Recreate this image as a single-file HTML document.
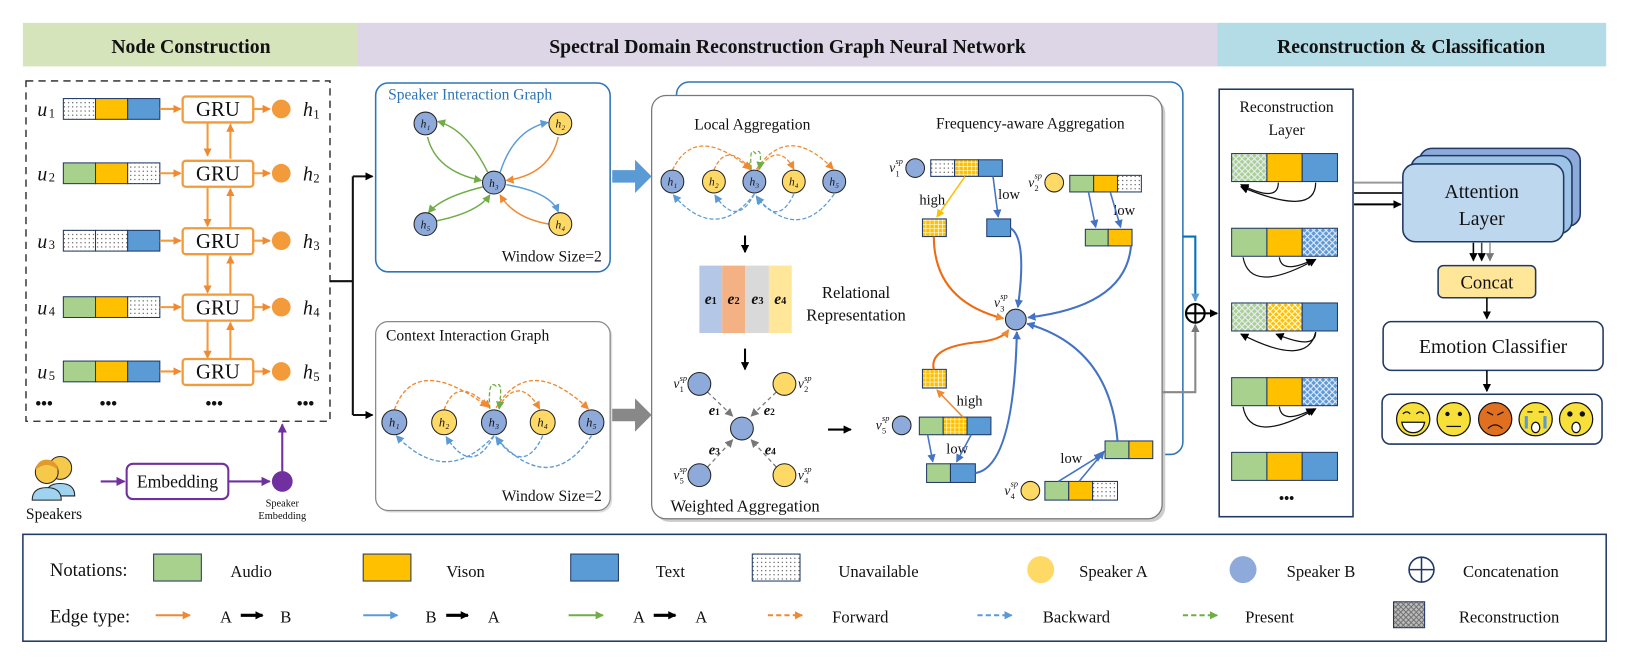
<!DOCTYPE html>
<html><head><meta charset="utf-8"><style>
html,body{margin:0;padding:0;background:#fff}
svg{display:block}
text{font-family:"Liberation Serif",serif;fill:#111}
.i{font-style:italic}
</style></head><body>
<svg width="1627" height="663" viewBox="0 0 1568 639" xmlns="http://www.w3.org/2000/svg">
<defs>
<pattern id="dot" width="4" height="4" patternUnits="userSpaceOnUse"><rect width="4" height="4" fill="#fff"/><circle cx="2" cy="2" r="0.6" fill="#333"/></pattern>
<pattern id="grid" width="4" height="4" patternUnits="userSpaceOnUse"><rect width="4" height="4" fill="#ffc000"/><path d="M0 0H4M0 0V4" stroke="#fff" stroke-width="1.2"/></pattern>
<pattern id="hg" width="6" height="6" patternUnits="userSpaceOnUse"><rect width="6" height="6" fill="#a9d18e"/><path d="M0 0L6 6M6 0L0 6" stroke="#eef" stroke-width="1"/></pattern>
<pattern id="hb" width="6" height="6" patternUnits="userSpaceOnUse"><rect width="6" height="6" fill="#5b9bd5"/><path d="M0 0L6 6M6 0L0 6" stroke="#eef" stroke-width="1"/></pattern>
<pattern id="hy" width="6" height="6" patternUnits="userSpaceOnUse"><rect width="6" height="6" fill="#ffc000"/><path d="M0 0L6 6M6 0L0 6" stroke="#fff" stroke-width="1"/></pattern>
<pattern id="hk" width="5" height="5" patternUnits="userSpaceOnUse"><rect width="5" height="5" fill="#bbb"/><path d="M0 0L5 5M5 0L0 5" stroke="#666" stroke-width="0.8"/></pattern>
<marker id="ao" markerWidth="8" markerHeight="8" refX="7" refY="4" orient="auto" markerUnits="userSpaceOnUse"><path d="M0 0L8 4L0 8z" fill="#f08a32"/></marker>
<marker id="ab" markerWidth="8" markerHeight="8" refX="7" refY="4" orient="auto" markerUnits="userSpaceOnUse"><path d="M0 0L8 4L0 8z" fill="#5b9bd5"/></marker>
<marker id="ab2" markerWidth="8" markerHeight="8" refX="7" refY="4" orient="auto" markerUnits="userSpaceOnUse"><path d="M0 0L8 4L0 8z" fill="#4472c4"/></marker>
<marker id="ag" markerWidth="8" markerHeight="8" refX="7" refY="4" orient="auto" markerUnits="userSpaceOnUse"><path d="M0 0L8 4L0 8z" fill="#70ad47"/></marker>
<marker id="ak" markerWidth="8" markerHeight="8" refX="7" refY="4" orient="auto" markerUnits="userSpaceOnUse"><path d="M0 0L8 4L0 8z" fill="#000"/></marker>
<marker id="agr" markerWidth="8" markerHeight="8" refX="7" refY="4" orient="auto" markerUnits="userSpaceOnUse"><path d="M0 0L8 4L0 8z" fill="#777"/></marker>
<marker id="ap" markerWidth="9" markerHeight="9" refX="8" refY="4.5" orient="auto" markerUnits="userSpaceOnUse"><path d="M0 0L9 4.5L0 9z" fill="#7030a0"/></marker>
<marker id="ay" markerWidth="8" markerHeight="8" refX="7" refY="4" orient="auto" markerUnits="userSpaceOnUse"><path d="M0 0L8 4L0 8z" fill="#ffc000"/></marker>
</defs>

<!-- headers -->
<rect x="22" y="22" width="323" height="42" fill="#d6e4bc"/>
<rect x="345" y="22" width="828" height="42" fill="#dcd6e6"/>
<rect x="1173" y="22" width="375" height="42" fill="#b4dce6"/>
<text x="184" y="51" font-size="19" font-weight="bold" text-anchor="middle">Node Construction</text>
<text x="759" y="51" font-size="19" font-weight="bold" text-anchor="middle">Spectral Domain Reconstruction Graph Neural Network</text>
<text x="1360" y="51" font-size="19" font-weight="bold" text-anchor="middle">Reconstruction &amp; Classification</text>

<!-- node construction -->
<rect x="25" y="78" width="293" height="328" fill="none" stroke="#222" stroke-width="1.3" stroke-dasharray="7,5"/>
<g stroke="#f39a3a" stroke-width="2" fill="none">
<path d="M200 117V150" marker-end="url(#ao)"/><path d="M222 153V120" marker-end="url(#ao)"/>
<path d="M200 179V218" marker-end="url(#ao)"/><path d="M222 221V182" marker-end="url(#ao)"/>
<path d="M200 244V282" marker-end="url(#ao)"/><path d="M222 285V247" marker-end="url(#ao)"/>
<path d="M200 308V345" marker-end="url(#ao)"/><path d="M222 348V311" marker-end="url(#ao)"/>
</g>
<g font-size="19">
<g transform="translate(0,105)">
<text x="36" y="7" class="i">u</text><text x="47" y="8" font-size="12">1</text>
<rect x="61" y="-10" width="31" height="20" fill="url(#dot)" stroke="#203864"/><rect x="92" y="-10" width="31" height="20" fill="#ffc000" stroke="#203864"/><rect x="123" y="-10" width="31" height="20" fill="#5b9bd5" stroke="#203864"/>
</g>
<g transform="translate(0,167)">
<text x="36" y="7" class="i">u</text><text x="47" y="8" font-size="12">2</text>
<rect x="61" y="-10" width="31" height="20" fill="#a9d18e" stroke="#203864"/><rect x="92" y="-10" width="31" height="20" fill="#ffc000" stroke="#203864"/><rect x="123" y="-10" width="31" height="20" fill="url(#dot)" stroke="#203864"/>
</g>
<g transform="translate(0,232)">
<text x="36" y="7" class="i">u</text><text x="47" y="8" font-size="12">3</text>
<rect x="61" y="-10" width="31" height="20" fill="url(#dot)" stroke="#203864"/><rect x="92" y="-10" width="31" height="20" fill="url(#dot)" stroke="#203864"/><rect x="123" y="-10" width="31" height="20" fill="#5b9bd5" stroke="#203864"/>
</g>
<g transform="translate(0,296)">
<text x="36" y="7" class="i">u</text><text x="47" y="8" font-size="12">4</text>
<rect x="61" y="-10" width="31" height="20" fill="#a9d18e" stroke="#203864"/><rect x="92" y="-10" width="31" height="20" fill="#ffc000" stroke="#203864"/><rect x="123" y="-10" width="31" height="20" fill="url(#dot)" stroke="#203864"/>
</g>
<g transform="translate(0,358)">
<text x="36" y="7" class="i">u</text><text x="47" y="8" font-size="12">5</text>
<rect x="61" y="-10" width="31" height="20" fill="#a9d18e" stroke="#203864"/><rect x="92" y="-10" width="31" height="20" fill="#ffc000" stroke="#203864"/><rect x="123" y="-10" width="31" height="20" fill="#5b9bd5" stroke="#203864"/>
</g>
</g>
<g stroke="#f39a3a" stroke-width="2.2" fill="#fff">
<rect x="176" y="93" width="68" height="25" rx="3"/><rect x="176" y="155" width="68" height="25" rx="3"/><rect x="176" y="220" width="68" height="25" rx="3"/><rect x="176" y="284" width="68" height="25" rx="3"/><rect x="176" y="346" width="68" height="25" rx="3"/>
</g>
<g stroke="#f39a3a" stroke-width="2" fill="none">
<path d="M154 105H174" marker-end="url(#ao)"/><path d="M154 167H174" marker-end="url(#ao)"/><path d="M154 232H174" marker-end="url(#ao)"/><path d="M154 296H174" marker-end="url(#ao)"/><path d="M154 358H174" marker-end="url(#ao)"/>
<path d="M244 105H260" marker-end="url(#ao)"/><path d="M244 167H260" marker-end="url(#ao)"/><path d="M244 232H260" marker-end="url(#ao)"/><path d="M244 296H260" marker-end="url(#ao)"/><path d="M244 358H260" marker-end="url(#ao)"/>
</g>
<g fill="#f39a3a"><circle cx="271" cy="105" r="9"/><circle cx="271" cy="167" r="9"/><circle cx="271" cy="232" r="9"/><circle cx="271" cy="296" r="9"/><circle cx="271" cy="358" r="9"/></g>
<g font-size="20" text-anchor="middle"><text x="210" y="112">GRU</text><text x="210" y="174">GRU</text><text x="210" y="239">GRU</text><text x="210" y="303">GRU</text><text x="210" y="365">GRU</text></g>
<g font-size="19"><text x="292" y="112" class="i">h</text><text x="292" y="174" class="i">h</text><text x="292" y="239" class="i">h</text><text x="292" y="303" class="i">h</text><text x="292" y="365" class="i">h</text></g>
<g font-size="12"><text x="302" y="114">1</text><text x="302" y="176">2</text><text x="302" y="241">3</text><text x="302" y="305">4</text><text x="302" y="367">5</text></g>
<g font-size="16" font-weight="bold"><text x="34" y="394">•••</text><text x="96" y="394">•••</text><text x="198" y="394">•••</text><text x="286" y="394">•••</text></g>

<!-- speakers -->
<g>
<circle cx="58" cy="451" r="11" fill="#f6c94a" stroke="#222"/><path d="M44 478q0-12 14-12q14 0 14 12z" fill="#9fd3f0" stroke="#222"/>
<circle cx="45" cy="455" r="11" fill="#f6c94a" stroke="#222"/><path d="M31 482q0-12 14-12q14 0 14 12z" fill="#9fd3f0" stroke="#222"/>
<path d="M34 453q2-10 11-10q9 0 11 10q-6-5-11-5q-5 0-11 5z" fill="#e29a2a"/>
</g>
<text x="52" y="500" font-size="15" text-anchor="middle">Speakers</text>
<path d="M97 464H120" stroke="#7030a0" stroke-width="2" marker-end="url(#ap)"/>
<rect x="122" y="447" width="98" height="34" rx="6" fill="#fff" stroke="#7030a0" stroke-width="2"/>
<text x="171" y="470" font-size="17" text-anchor="middle">Embedding</text>
<path d="M220 464H260" stroke="#7030a0" stroke-width="2" marker-end="url(#ap)"/>
<circle cx="272" cy="464" r="10" fill="#7030a0"/>
<path d="M272 454V409" stroke="#7030a0" stroke-width="2" marker-end="url(#ap)"/>
<text x="272" y="488" font-size="10" text-anchor="middle">Speaker</text><text x="272" y="500" font-size="10" text-anchor="middle">Embedding</text>

<!-- connector -->
<path d="M318 271H340M340 170V400" stroke="#111" stroke-width="2" fill="none"/>
<path d="M340 170H359" stroke="#111" stroke-width="2" marker-end="url(#ak)"/>
<path d="M340 400H359" stroke="#111" stroke-width="2" marker-end="url(#ak)"/>

<!-- speaker interaction graph -->
<rect x="362" y="80" width="226" height="182" rx="12" fill="#fff" stroke="#2e75b6" stroke-width="1.5"/>
<text x="374" y="96" font-size="15" style="fill:#2e75b6">Speaker Interaction Graph</text>
<g fill="none" stroke-width="1.4">
<path d="M470 166Q450 125 422 117" stroke="#70ad47" marker-end="url(#ag)"/>
<path d="M412 132Q420 165 464 174" stroke="#70ad47" marker-end="url(#ag)"/>
<path d="M466 180Q425 190 413 205" stroke="#70ad47" marker-end="url(#ag)"/>
<path d="M420 213Q460 205 472 188" stroke="#70ad47" marker-end="url(#ag)"/>
<path d="M482 166Q495 125 528 118" stroke="#5b9bd5" marker-end="url(#ab)"/>
<path d="M538 132Q530 168 488 174" stroke="#f08a32" marker-end="url(#ao)"/>
<path d="M488 178Q530 185 538 204" stroke="#5b9bd5" marker-end="url(#ab)"/>
<path d="M529 216Q495 210 482 188" stroke="#f08a32" marker-end="url(#ao)"/>
</g>
<g stroke="#222" stroke-width="1"><circle cx="410" cy="119" r="11" fill="#8eaadb"/><circle cx="540" cy="119" r="11" fill="#ffd966"/><circle cx="476" cy="176" r="11" fill="#8eaadb"/><circle cx="410" cy="216" r="11" fill="#8eaadb"/><circle cx="540" cy="216" r="11" fill="#ffd966"/></g>
<g font-size="11" class="i" text-anchor="middle"><text x="410" y="123">h₁</text><text x="540" y="123">h₂</text><text x="476" y="180">h₃</text><text x="410" y="220">h₅</text><text x="540" y="220">h₄</text></g>
<text x="580" y="252" font-size="15" text-anchor="end">Window Size=2</text>

<!-- context interaction graph -->
<rect x="364" y="312" width="226" height="182" rx="12" fill="#ddd"/>
<rect x="362" y="310" width="226" height="182" rx="12" fill="#fff" stroke="#888" stroke-width="1.2"/>
<text x="372" y="328" font-size="15">Context Interaction Graph</text>
<g fill="none" stroke-width="1.3" stroke-dasharray="4,2">
<path d="M380 395Q400 340 470 392" stroke="#f08a32" marker-end="url(#ao)"/>
<path d="M428 395Q440 360 472 393" stroke="#f08a32" marker-end="url(#ao)"/>
<path d="M480 393Q500 360 520 394" stroke="#f08a32" marker-end="url(#ao)"/>
<path d="M478 393Q510 340 567 394" stroke="#f08a32" marker-end="url(#ao)"/>
<path d="M472 394Q470 365 478 372Q485 365 481 394" stroke="#70ad47" marker-end="url(#ag)"/>
<path d="M476 420Q430 470 382 420" stroke="#5b9bd5" marker-end="url(#ab)"/>
<path d="M476 420Q455 460 430 421" stroke="#5b9bd5" marker-end="url(#ab)"/>
<path d="M523 420Q505 460 478 421" stroke="#5b9bd5" marker-end="url(#ab)"/>
<path d="M570 420Q530 480 478 422" stroke="#5b9bd5" marker-end="url(#ab)"/>
</g>
<g stroke="#222" stroke-width="1"><circle cx="380" cy="407" r="12" fill="#8eaadb"/><circle cx="428" cy="407" r="12" fill="#ffd966"/><circle cx="476" cy="407" r="12" fill="#8eaadb"/><circle cx="523" cy="407" r="12" fill="#ffd966"/><circle cx="570" cy="407" r="12" fill="#8eaadb"/></g>
<g font-size="12" class="i" text-anchor="middle"><text x="380" y="411">h₁</text><text x="428" y="411">h₂</text><text x="476" y="411">h₃</text><text x="523" y="411">h₄</text><text x="570" y="411">h₅</text></g>
<text x="580" y="483" font-size="15" text-anchor="end">Window Size=2</text>

<!-- thick arrows -->
<path d="M590 164H612V154L628 170L612 186V176H590z" fill="#5b9bd5"/>
<path d="M590 394H612V384L628 400L612 416V406H590z" fill="#888"/>

<!-- back blue box -->
<rect x="652" y="79" width="488" height="359" rx="12" fill="#fff" stroke="#2e75b6" stroke-width="1.5"/>
<rect x="631" y="95" width="492" height="408" rx="14" fill="#ccc"/>
<rect x="628" y="92" width="492" height="408" rx="14" fill="#fff" stroke="#777" stroke-width="1.2"/>

<!-- local aggregation -->
<text x="725" y="125" font-size="15" text-anchor="middle">Local Aggregation</text>
<g fill="none" stroke-width="1.2" stroke-dasharray="4,2">
<path d="M648 164Q670 118 723 163" stroke="#f08a32" marker-end="url(#ao)"/>
<path d="M688 164Q700 135 724 164" stroke="#f08a32" marker-end="url(#ao)"/>
<path d="M730 164Q750 135 765 163" stroke="#f08a32" marker-end="url(#ao)"/>
<path d="M729 163Q760 118 803 163" stroke="#f08a32" marker-end="url(#ao)"/>
<path d="M724 163Q722 140 728 148Q735 140 732 163" stroke="#70ad47" marker-end="url(#ag)"/>
<path d="M727 187Q690 235 649 188" stroke="#5b9bd5" marker-end="url(#ab)"/>
<path d="M727 187Q710 220 689 188" stroke="#5b9bd5" marker-end="url(#ab)"/>
<path d="M765 187Q750 220 729 189" stroke="#5b9bd5" marker-end="url(#ab)"/>
<path d="M804 187Q770 235 729 190" stroke="#5b9bd5" marker-end="url(#ab)"/>
</g>
<g stroke="#222" stroke-width="1"><circle cx="648" cy="175" r="11" fill="#8eaadb"/><circle cx="688" cy="175" r="11" fill="#ffd966"/><circle cx="727" cy="175" r="11" fill="#8eaadb"/><circle cx="765" cy="175" r="11" fill="#ffd966"/><circle cx="804" cy="175" r="11" fill="#8eaadb"/></g>
<g font-size="11" class="i" text-anchor="middle"><text x="648" y="179">h₁</text><text x="688" y="179">h₂</text><text x="727" y="179">h₃</text><text x="765" y="179">h₄</text><text x="804" y="179">h₅</text></g>
<path d="M718 227V243" stroke="#000" stroke-width="2" marker-end="url(#ak)"/>
<rect x="674" y="256" width="22" height="65" fill="#b4c7e7"/><rect x="696" y="256" width="22" height="65" fill="#f4b183"/><rect x="718" y="256" width="23" height="65" fill="#d9d9d9"/><rect x="741" y="256" width="22" height="65" fill="#ffe699"/>
<g font-size="15" class="i" font-weight="bold" text-anchor="middle"><text x="685" y="293">e<tspan font-size="10" font-style="normal">1</tspan></text><text x="707" y="293">e<tspan font-size="10" font-style="normal">2</tspan></text><text x="730" y="293">e<tspan font-size="10" font-style="normal">3</tspan></text><text x="752" y="293">e<tspan font-size="10" font-style="normal">4</tspan></text></g>
<text x="825" y="287" font-size="16" text-anchor="middle">Relational</text>
<text x="825" y="309" font-size="16" text-anchor="middle">Representation</text>
<path d="M718 336V356" stroke="#000" stroke-width="2" marker-end="url(#ak)"/>
<!-- weighted -->
<g stroke="#777" stroke-width="1.2" stroke-dasharray="4,3" fill="none">
<path d="M682 378L706 401" marker-end="url(#agr)"/><path d="M748 378L724 401" marker-end="url(#agr)"/><path d="M682 450L706 424" marker-end="url(#agr)"/><path d="M748 450L724 424" marker-end="url(#agr)"/>
</g>
<g stroke="#222" stroke-width="1"><circle cx="674" cy="370" r="11" fill="#8eaadb"/><circle cx="756" cy="370" r="11" fill="#ffd966"/><circle cx="715" cy="413" r="11" fill="#8eaadb"/><circle cx="674" cy="458" r="11" fill="#8eaadb"/><circle cx="756" cy="458" r="11" fill="#ffd966"/></g>
<g font-size="14" class="i" font-weight="bold"><text x="683" y="400">e<tspan font-size="9" font-style="normal">1</tspan></text><text x="736" y="400">e<tspan font-size="9" font-style="normal">2</tspan></text><text x="683" y="438">e<tspan font-size="9" font-style="normal">3</tspan></text><text x="737" y="438">e<tspan font-size="9" font-style="normal">4</tspan></text></g>
<g font-size="13" class="i">
<text x="649" y="374">v</text><text x="655" y="378" font-size="8" font-style="normal">1</text><text x="655" y="367" font-size="8">sp</text>
<text x="769" y="374">v</text><text x="775" y="378" font-size="8" font-style="normal">2</text><text x="775" y="367" font-size="8">sp</text>
<text x="649" y="462">v</text><text x="655" y="466" font-size="8" font-style="normal">5</text><text x="655" y="455" font-size="8">sp</text>
<text x="769" y="462">v</text><text x="775" y="466" font-size="8" font-style="normal">4</text><text x="775" y="455" font-size="8">sp</text>
</g>
<text x="718" y="493" font-size="16" text-anchor="middle">Weighted Aggregation</text>
<path d="M798 414H820" stroke="#000" stroke-width="2" marker-end="url(#ak)"/>

<!-- frequency-aware -->
<text x="993" y="124" font-size="15" text-anchor="middle">Frequency-aware Aggregation</text>
<g stroke="#203864" stroke-width="1">
<rect x="897" y="154" width="23" height="16" fill="url(#dot)"/><rect x="920" y="154" width="23" height="16" fill="url(#grid)"/><rect x="943" y="154" width="23" height="16" fill="#5b9bd5"/>
<rect x="889" y="211" width="23" height="17" fill="url(#grid)"/><rect x="951" y="211" width="23" height="17" fill="#5b9bd5"/>
<rect x="1031" y="169" width="23" height="16" fill="#a9d18e"/><rect x="1054" y="169" width="23" height="16" fill="#ffc000"/><rect x="1077" y="169" width="23" height="16" fill="url(#dot)"/>
<rect x="1046" y="221" width="22" height="16" fill="#a9d18e"/><rect x="1068" y="221" width="23" height="16" fill="#ffc000"/>
<rect x="889" y="356" width="23" height="18" fill="url(#grid)"/>
<rect x="886" y="402" width="23" height="17" fill="#a9d18e"/><rect x="909" y="402" width="23" height="17" fill="url(#grid)"/><rect x="932" y="402" width="23" height="17" fill="#5b9bd5"/>
<rect x="893" y="447" width="23" height="18" fill="#a9d18e"/><rect x="916" y="447" width="24" height="18" fill="#5b9bd5"/>
<rect x="1065" y="425" width="23" height="17" fill="#a9d18e"/><rect x="1088" y="425" width="23" height="17" fill="#ffc000"/>
<rect x="1007" y="464" width="23" height="18" fill="#a9d18e"/><rect x="1030" y="464" width="23" height="18" fill="#ffc000"/><rect x="1053" y="464" width="24" height="18" fill="url(#dot)"/>
</g>
<g stroke="#222" stroke-width="1"><circle cx="882" cy="162" r="9" fill="#8eaadb"/><circle cx="1016" cy="176" r="9" fill="#ffd966"/><circle cx="869" cy="410" r="9" fill="#8eaadb"/><circle cx="993" cy="473" r="9" fill="#ffd966"/><circle cx="979" cy="308" r="10" fill="#8eaadb"/></g>
<g font-size="13" class="i">
<text x="857" y="166">v</text><text x="863" y="170" font-size="8" font-style="normal">1</text><text x="863" y="158" font-size="8">sp</text>
<text x="991" y="180">v</text><text x="997" y="184" font-size="8" font-style="normal">2</text><text x="997" y="172" font-size="8">sp</text>
<text x="844" y="414">v</text><text x="850" y="418" font-size="8" font-style="normal">5</text><text x="850" y="406" font-size="8">sp</text>
<text x="968" y="477">v</text><text x="974" y="481" font-size="8" font-style="normal">4</text><text x="974" y="469" font-size="8">sp</text>
<text x="958" y="296">v</text><text x="964" y="300" font-size="8" font-style="normal">3</text><text x="964" y="288" font-size="8">sp</text>
</g>
<g font-size="14"><text x="886" y="197">high</text><text x="962" y="192">low</text><text x="1073" y="207">low</text><text x="922" y="391">high</text><text x="912" y="437">low</text><text x="1022" y="446">low</text></g>
<g fill="none" stroke-width="1.5">
<path d="M930 170L903 209" stroke="#ffc000" marker-end="url(#ay)"/>
<path d="M957 170L962 209" stroke="#4472c4" marker-end="url(#ab2)"/>
<path d="M1049 185L1056 219" stroke="#4472c4" marker-end="url(#ab2)"/>
<path d="M1070 185L1080 219" stroke="#4472c4" marker-end="url(#ab2)"/>
<path d="M900 228Q900 290 967 307" stroke="#f06a10" stroke-width="2" marker-end="url(#ao)"/>
<path d="M974 220Q990 230 981 296" stroke="#4472c4" stroke-width="2" marker-end="url(#ab2)"/>
<path d="M1090 237Q1085 295 991 306" stroke="#4472c4" stroke-width="2" marker-end="url(#ab2)"/>
<path d="M900 356Q895 335 940 330Q965 328 972 318" stroke="#f06a10" stroke-width="2" marker-end="url(#ao)"/>
<path d="M928 402L903 376" stroke="#f08a32" marker-end="url(#ao)"/>
<path d="M940 456Q977 450 980 320" stroke="#4472c4" stroke-width="2" marker-end="url(#ab2)"/>
<path d="M1077 425Q1070 335 990 312" stroke="#4472c4" stroke-width="2" marker-end="url(#ab2)"/>
<path d="M894 419L899 445" stroke="#4472c4" marker-end="url(#ab2)"/>
<path d="M936 419L922 445" stroke="#4472c4" marker-end="url(#ab2)"/>
<path d="M1020 464L1062 438" stroke="#4472c4" marker-end="url(#ab2)"/>
<path d="M1040 464L1064 435" stroke="#4472c4" marker-end="url(#ab2)"/>
</g>

<!-- concat circle -->
<path d="M1140 228H1152V290" stroke="#0070c0" stroke-width="2" fill="none" marker-end="url(#ab)"/>
<path d="M1120 378H1152V313" stroke="#888" stroke-width="2" fill="none" marker-end="url(#agr)"/>
<circle cx="1152" cy="302" r="9" fill="#fff" stroke="#000" stroke-width="2"/>
<path d="M1143 302H1161M1152 293V311" stroke="#000" stroke-width="2"/>
<path d="M1161 302H1173" stroke="#000" stroke-width="2" marker-end="url(#ak)"/>

<!-- reconstruction layer -->
<rect x="1175" y="86" width="129" height="412" fill="#fff" stroke="#203864" stroke-width="1.5"/>
<text x="1240" y="108" font-size="15" text-anchor="middle">Reconstruction</text>
<text x="1240" y="130" font-size="15" text-anchor="middle">Layer</text>
<g stroke="#203864" stroke-width="1">
<rect x="1187" y="148" width="34" height="27" fill="url(#hg)"/><rect x="1221" y="148" width="34" height="27" fill="#ffc000"/><rect x="1255" y="148" width="34" height="27" fill="#5b9bd5"/>
<rect x="1187" y="220" width="34" height="27" fill="#a9d18e"/><rect x="1221" y="220" width="34" height="27" fill="#ffc000"/><rect x="1255" y="220" width="34" height="27" fill="url(#hb)"/>
<rect x="1187" y="292" width="34" height="27" fill="url(#hg)"/><rect x="1221" y="292" width="34" height="27" fill="url(#hy)"/><rect x="1255" y="292" width="34" height="27" fill="#5b9bd5"/>
<rect x="1187" y="364" width="34" height="27" fill="#a9d18e"/><rect x="1221" y="364" width="34" height="27" fill="#ffc000"/><rect x="1255" y="364" width="34" height="27" fill="url(#hb)"/>
<rect x="1187" y="436" width="34" height="27" fill="#a9d18e"/><rect x="1221" y="436" width="34" height="27" fill="#ffc000"/><rect x="1255" y="436" width="34" height="27" fill="#5b9bd5"/>
</g>
<g fill="none" stroke="#111" stroke-width="1.2">
<path d="M1232 176Q1232 196 1196 178" marker-end="url(#ak)"/><path d="M1268 176Q1268 210 1196 180" marker-end="url(#ak)"/>
<path d="M1233 248Q1235 265 1266 250" marker-end="url(#ak)"/><path d="M1198 248Q1205 285 1268 250" marker-end="url(#ak)"/>
<path d="M1268 320Q1268 338 1230 322" marker-end="url(#ak)"/><path d="M1268 320Q1260 355 1196 322" marker-end="url(#ak)"/>
<path d="M1233 392Q1235 410 1266 394" marker-end="url(#ak)"/><path d="M1198 392Q1205 430 1268 394" marker-end="url(#ak)"/>
</g>
<text x="1240" y="485" font-size="14" font-weight="bold" text-anchor="middle">•••</text>

<!-- attention -->
<path d="M1305 176H1352" stroke="#999" stroke-width="2"/>
<path d="M1305 186H1352" stroke="#333" stroke-width="2"/>
<path d="M1305 197H1350" stroke="#000" stroke-width="2" marker-end="url(#ak)"/>
<rect x="1368" y="143" width="155" height="75" rx="12" fill="#8eaadb" stroke="#203864" stroke-width="1.5"/>
<rect x="1360" y="150" width="155" height="75" rx="12" fill="#9dc3e6" stroke="#203864" stroke-width="1.5"/>
<rect x="1352" y="158" width="155" height="75" rx="12" fill="#bdd7ee" stroke="#203864" stroke-width="1.5"/>
<text x="1428" y="191" font-size="19" text-anchor="middle">Attention</text>
<text x="1428" y="217" font-size="19" text-anchor="middle">Layer</text>
<path d="M1420 234V251" stroke="#000" stroke-width="1.5" marker-end="url(#ak)"/>
<path d="M1428 234V251" stroke="#444" stroke-width="1.5" marker-end="url(#ak)"/>
<path d="M1436 234V251" stroke="#999" stroke-width="1.5" marker-end="url(#agr)"/>
<rect x="1386" y="256" width="94" height="31" rx="5" fill="#ffe699" stroke="#203864" stroke-width="1.5"/>
<text x="1433" y="278" font-size="18" text-anchor="middle">Concat</text>
<path d="M1433 287V307" stroke="#000" stroke-width="1.5" marker-end="url(#ak)"/>
<rect x="1333" y="310" width="212" height="47" rx="8" fill="#fff" stroke="#203864" stroke-width="1.5"/>
<text x="1439" y="340" font-size="19" text-anchor="middle">Emotion Classifier</text>
<path d="M1433 357V377" stroke="#000" stroke-width="1.5" marker-end="url(#ak)"/>
<rect x="1332" y="380" width="212" height="48" rx="8" fill="#fff" stroke="#203864" stroke-width="1.5"/>
<g stroke="#111" stroke-width="1.2">
<circle cx="1362" cy="404" r="16" fill="#f8e03a"/><circle cx="1401" cy="404" r="16" fill="#f8e03a"/><circle cx="1441" cy="404" r="16" fill="#e07020"/><circle cx="1480" cy="404" r="16" fill="#f8e03a"/><circle cx="1519" cy="404" r="16" fill="#f8e03a"/>
<path d="M1352 399q4-4 7 0M1365 399q4-4 7 0" fill="none"/><path d="M1351 407h22q-2 10-11 10q-9 0-11-10z" fill="#fff"/>
<path d="M1394 411h14" fill="none"/><circle cx="1395" cy="399" r="1.5" fill="#111"/><circle cx="1407" cy="399" r="1.5" fill="#111"/>
<path d="M1433 397l6 3M1449 397l-6 3M1434 413q7-7 14 0" fill="none"/>
<path d="M1472 397h5M1483 397h5" fill="none"/><ellipse cx="1480" cy="412" rx="4" ry="5" fill="#fff"/><path d="M1471 401v12" stroke="#5b9bd5" stroke-width="3"/><path d="M1489 401v12" stroke="#5b9bd5" stroke-width="3"/>
<circle cx="1513" cy="399" r="2" fill="#111"/><circle cx="1525" cy="399" r="2" fill="#111"/><ellipse cx="1519" cy="412" rx="4" ry="5" fill="#fff"/>
</g>

<!-- legend -->
<rect x="22" y="515" width="1526" height="103" fill="#fff" stroke="#203864" stroke-width="1.5"/>
<g font-size="16">
<text x="48" y="555" font-size="18">Notations:</text>
<rect x="148" y="534" width="46" height="26" fill="#a9d18e" stroke="#203864"/><text x="222" y="556">Audio</text>
<rect x="350" y="534" width="46" height="26" fill="#ffc000" stroke="#203864"/><text x="430" y="556">Vison</text>
<rect x="550" y="534" width="46" height="26" fill="#5b9bd5" stroke="#203864"/><text x="632" y="556">Text</text>
<rect x="725" y="534" width="46" height="26" fill="url(#dot)" stroke="#203864"/><text x="808" y="556">Unavailable</text>
<ellipse cx="1003" cy="549" rx="13" ry="13" fill="#ffd966"/><text x="1040" y="556">Speaker A</text>
<ellipse cx="1198" cy="549" rx="13" ry="13" fill="#8eaadb"/><text x="1240" y="556">Speaker B</text>
<circle cx="1370" cy="549" r="12" fill="none" stroke="#203864" stroke-width="1.5"/><path d="M1358 549H1382M1370 537V561" stroke="#203864" stroke-width="1.5"/><text x="1410" y="556">Concatenation</text>
<text x="48" y="600" font-size="18">Edge type:</text>
<path d="M150 593H183" stroke="#f08a32" stroke-width="2" marker-end="url(#ao)"/><text x="212" y="600">A</text><path d="M232 593H253" stroke="#000" stroke-width="3" marker-end="url(#ak)"/><text x="270" y="600">B</text>
<path d="M350 593H383" stroke="#5b9bd5" stroke-width="2" marker-end="url(#ab)"/><text x="410" y="600">B</text><path d="M430 593H451" stroke="#000" stroke-width="3" marker-end="url(#ak)"/><text x="470" y="600">A</text>
<path d="M548 593H581" stroke="#70ad47" stroke-width="2" marker-end="url(#ag)"/><text x="610" y="600">A</text><path d="M630 593H651" stroke="#000" stroke-width="3" marker-end="url(#ak)"/><text x="670" y="600">A</text>
<path d="M740 593H773" stroke="#f08a32" stroke-width="2" stroke-dasharray="5,3" marker-end="url(#ao)"/><text x="802" y="600">Forward</text>
<path d="M942 593H975" stroke="#5b9bd5" stroke-width="2" stroke-dasharray="5,3" marker-end="url(#ab)"/><text x="1005" y="600">Backward</text>
<path d="M1140 593H1173" stroke="#70ad47" stroke-width="2" stroke-dasharray="5,3" marker-end="url(#ag)"/><text x="1200" y="600">Present</text>
<rect x="1343" y="580" width="30" height="25" fill="url(#hk)" stroke="#203864"/><text x="1406" y="600">Reconstruction</text>
</g>
</svg>
</body></html>
